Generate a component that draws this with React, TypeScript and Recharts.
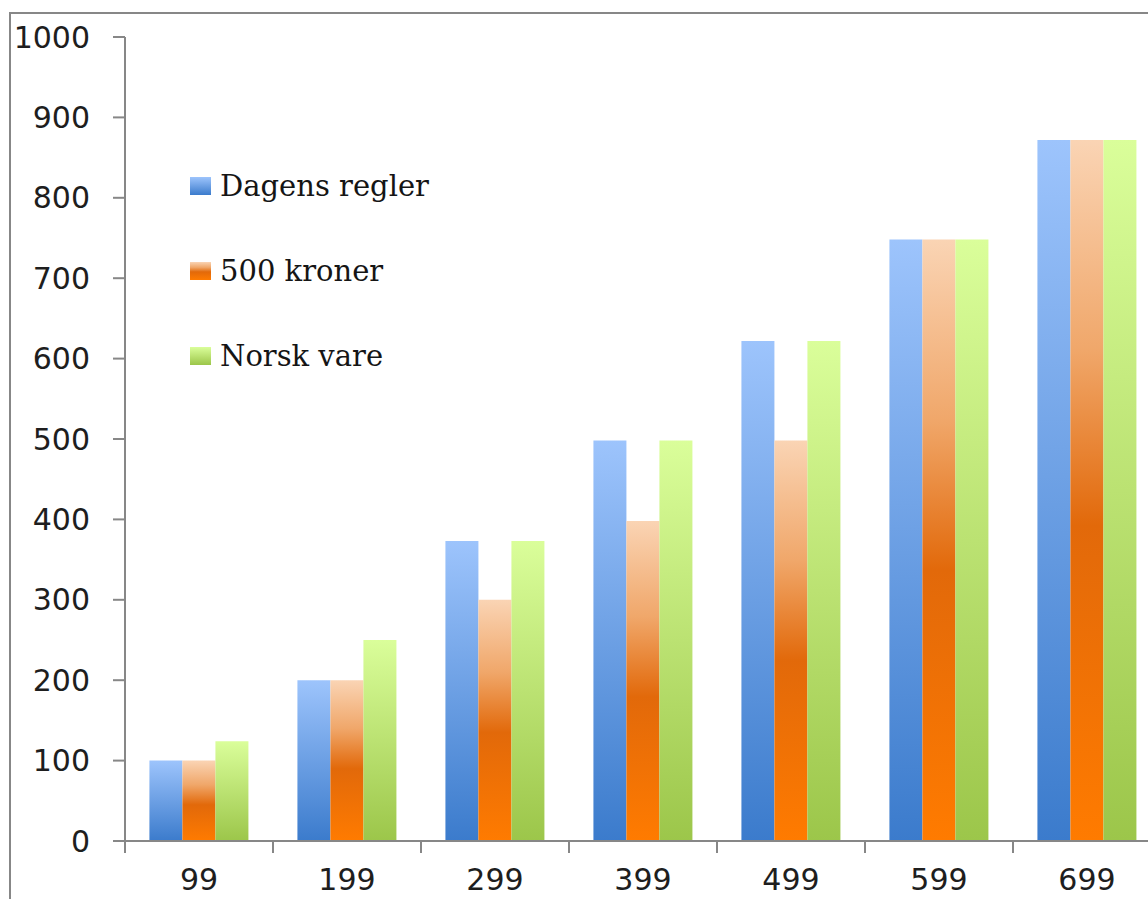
import React from 'react';
import { BarChart, Bar, XAxis, YAxis } from 'recharts';

const categories = ['99', '199', '299', '399', '499', '599', '699'];
const dagensRegler = [100, 200, 373, 498, 622, 748, 872];
const femHundreKroner = [100, 200, 300, 398, 498, 748, 872];
const norskVare = [124, 250, 373, 498, 622, 748, 872];
const yTicks = [0, 100, 200, 300, 400, 500, 600, 700, 800, 900, 1000];

const series = [
  { key: 'dagens', name: 'Dagens regler', values: dagensRegler,
    stops: [['0%', '#9dc4fc'], ['100%', '#3b7bcc']] },
  { key: 'kroner', name: '500 kroner', values: femHundreKroner,
    stops: [['0%', '#fad4b4'], ['30%', '#f0a76a'], ['55%', '#e2690a'], ['100%', '#ff7b00']] },
  { key: 'norsk', name: 'Norsk vare', values: norskVare,
    stops: [['0%', '#dafe9a'], ['100%', '#9cc64a']] },
];

const data = categories.map((c, i) => {
  const row: Record<string, string | number> = { cat: c };
  series.forEach(s => { row[s.key] = s.values[i]; });
  return row;
});

const CHART_W = 1161;
const CHART_H = 930;
const PLOT_TOP = 37;
const PLOT_H = 804;
const Y_AXIS_W = 125;
const TICK_SIZE = 12;
const TICK_MARGIN = 16;
const axisColor = '#878787';
const tickFont = { fontFamily: 'DejaVu Sans', fontSize: 30, fill: '#1e1e1e' };

// category ticks sit on the band edges, labels in the middle
const XTick = (props: any) => {
  const { x, y, payload } = props;
  const step = (CHART_W - Y_AXIS_W) / categories.length;
  const top = y - TICK_SIZE - TICK_MARGIN;
  return (
    <g>
      <line x1={x - step / 2} x2={x - step / 2} y1={top} y2={top + TICK_SIZE} stroke={axisColor} strokeWidth={2} />
      <line x1={x + step / 2} x2={x + step / 2} y1={top} y2={top + TICK_SIZE} stroke={axisColor} strokeWidth={2} />
      <text x={x} y={y} dy="0.71em" textAnchor="middle" {...tickFont}>{payload.value}</text>
    </g>
  );
};

const gradientCss = (stops: string[][]) =>
  `linear-gradient(to bottom, ${stops.map(([o, c]) => `${c} ${o}`).join(', ')})`;

const ChartLegend = () => (
  <div style={{ position: 'absolute', left: 190, top: 143 }}>
    {series.map(s => (
      <div key={s.key} style={{ display: 'flex', alignItems: 'center', height: 85 }}>
        <span style={{ width: 21, height: 18, background: gradientCss(s.stops), marginRight: 9 }} />
        <span style={{ fontFamily: 'DejaVu Serif', fontSize: 29, color: '#151515' }}>{s.name}</span>
      </div>
    ))}
  </div>
);

export default function App() {
  return (
    <div style={{ position: 'absolute', left: 0, top: 0, width: 1148, height: 899, overflow: 'hidden', background: '#fff' }}>
      <div style={{ position: 'absolute', left: 9, top: 12, width: 1300, height: 1000, borderLeft: `2px solid ${axisColor}`, borderTop: `2px solid ${axisColor}` }} />
      <div style={{ position: 'absolute', left: 0, top: 0 }}>
        <BarChart width={CHART_W} height={CHART_H} data={data}
          margin={{ top: PLOT_TOP, right: 0, left: 0, bottom: 0 }}
          barGap={0} barCategoryGap="16.5%">
          <defs>
            {series.map(s => (
              <linearGradient key={s.key} id={`grad-${s.key}`} x1="0" y1="0" x2="0" y2="1">
                {s.stops.map(([o, c]) => <stop key={o} offset={o} stopColor={c} />)}
              </linearGradient>
            ))}
          </defs>
          <XAxis dataKey="cat" height={CHART_H - PLOT_TOP - PLOT_H} tick={<XTick />} tickLine={false}
            tickSize={TICK_SIZE} tickMargin={TICK_MARGIN}
            axisLine={{ stroke: axisColor, strokeWidth: 2 }} />
          <YAxis width={Y_AXIS_W} domain={[0, 1000]} ticks={yTicks} interval={0}
            tickSize={TICK_SIZE} tickMargin={23} tick={tickFont}
            tickLine={{ stroke: axisColor, strokeWidth: 2 }}
            axisLine={{ stroke: axisColor, strokeWidth: 2 }} />
          {series.map(s => (
            <Bar key={s.key} dataKey={s.key} name={s.name} fill={`url(#grad-${s.key})`} isAnimationActive={false} />
          ))}
        </BarChart>
      </div>
      <ChartLegend />
    </div>
  );
}
